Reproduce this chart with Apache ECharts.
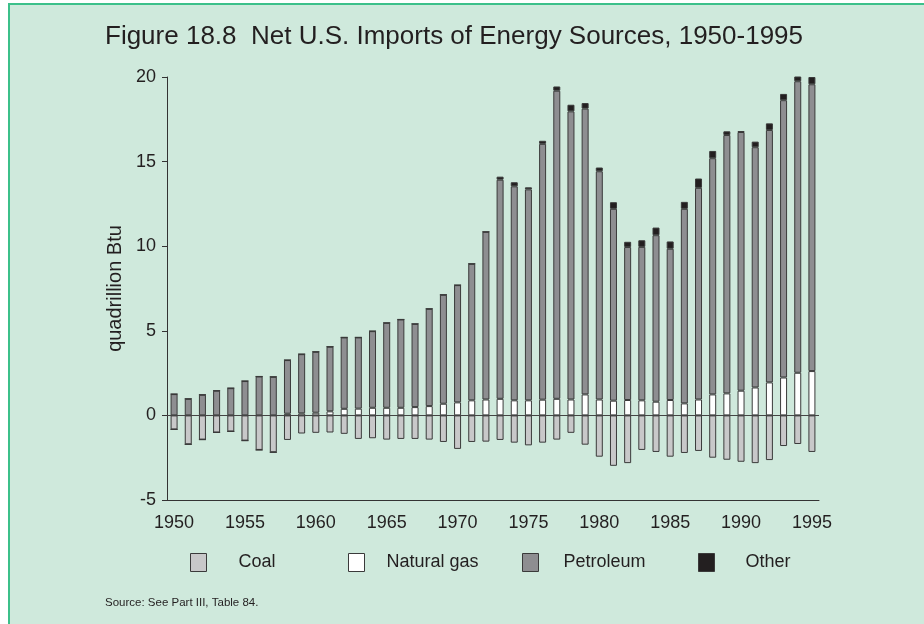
<!DOCTYPE html>
<html>
<head>
<meta charset="utf-8">
<script src="https://cdn.jsdelivr.net/npm/echarts@6/dist/echarts.min.js"></script>
<style>
html,body{margin:0;padding:0;background:#fff;}
#chart{width:924px;height:624px;}
</style>
</head>
<body>
<div id="chart"></div>
<script>
var years = [];
for (var y = 1950; y <= 1995; y++) years.push(String(y));

var coal = [-0.83,-1.71,-1.43,-1.01,-0.95,-1.49,-2.04,-2.18,-1.45,-1.07,
            -1.03,-1.01,-1.09,-1.39,-1.35,-1.43,-1.39,-1.39,-1.43,-1.57,
            -1.98,-1.57,-1.55,-1.45,-1.61,-1.77,-1.61,-1.43,-1.03,-1.73,
            -2.44,-2.98,-2.82,-2.04,-2.16,-2.44,-2.22,-2.10,-2.50,-2.62,
            -2.74,-2.82,-2.64,-1.81,-1.69,-2.16];
var naturalGas = [0,0,0,0,0,0,0,0,0.10,0.12,
            0.16,0.24,0.39,0.40,0.45,0.45,0.45,0.49,0.55,0.69,
            0.77,0.89,0.94,0.98,0.89,0.89,0.93,0.98,0.94,1.24,
            0.94,0.87,0.91,0.89,0.81,0.91,0.71,0.94,1.24,1.30,
            1.46,1.65,1.95,2.24,2.52,2.62];
var petroleum = [1.26,0.98,1.22,1.46,1.61,2.03,2.30,2.28,3.17,3.50,
            3.60,3.82,4.22,4.21,4.53,5.02,5.22,4.92,5.75,6.44,
            6.93,8.07,9.91,12.95,12.65,12.47,15.12,18.21,17.03,16.89,
            13.49,11.34,9.04,9.07,9.84,8.94,11.50,12.51,13.96,15.27,
            15.29,14.20,14.92,16.39,17.23,16.95];
var other = [0,0,0,0,0,0,0,0,0,0,
            0,0,0,0,0,0,0,0,0,0,
            0,0,0,0.18,0.24,0.12,0.18,0.25,0.39,0.33,
            0.22,0.39,0.31,0.39,0.45,0.43,0.41,0.55,0.43,0.22,
            0.04,0.33,0.39,0.37,0.55,0.43];
var yTicks = [-5, 0, 5, 10, 15, 20];

var FONT = "'Liberation Sans', Arial, sans-serif";
var TXT = '#231f20';
var BORDER = '#3a3a3a';

function barSeries(name, data, color) {
  return {
    name: name, type: 'bar', stack: 'total', data: data,
    barWidth: 7,
    itemStyle: { color: color, borderColor: BORDER, borderWidth: 1 },
    emphasis: { disabled: true }
  };
}

function legendAt(name, left, gap) {
  return {
    data: [name], left: left, top: 553, orient: 'horizontal', padding: 0,
    itemWidth: 16, itemHeight: 18, icon: 'rect',
    selectedMode: false,
    textStyle: { fontFamily: FONT, fontSize: 18, color: TXT, padding: [0, 0, 0, gap] },
    itemStyle: { borderColor: BORDER, borderWidth: 1 }
  };
}

var chart = echarts.init(document.getElementById('chart'), null, { renderer: 'canvas' });
var series = [
  barSeries('Coal', coal, '#c8c8c9'),
  barSeries('Natural gas', naturalGas, '#ffffff'),
  barSeries('Petroleum', petroleum, '#8e8e91'),
  barSeries('Other', other, '#231f20')
];
series[0].markLine = {
  silent: true, symbol: 'none', label: { show: false },
  lineStyle: { color: '#444', width: 1, type: 'solid' },
  data: [{ yAxis: 0 }]
};

chart.setOption({
  animation: false,
  backgroundColor: 'transparent',
  graphic: [
    { type: 'rect', z: -10, left: 8, top: 3,
      shape: { x: 0, y: 0, width: 940, height: 640 },
      style: { fill: '#cfe9dc', stroke: '#3cc08a', lineWidth: 2 } },
    { type: 'text', left: 105, top: 597,
      style: { text: 'Source: See Part III, Table 84.', font: '11.5px ' + FONT, fill: TXT } }
  ],
  title: {
    text: 'Figure 18.8  Net U.S. Imports of Energy Sources, 1950-1995',
    left: 100, top: 19,
    textStyle: { fontFamily: FONT, fontSize: 26, fontWeight: 'normal', color: TXT }
  },
  legend: [
    legendAt('Coal', 190, 27),
    legendAt('Natural gas', 348, 17),
    legendAt('Petroleum', 522, 20),
    legendAt('Other', 698, 26)
  ],
  grid: { left: 167, top: 77, width: 652, height: 423, containLabel: false },
  xAxis: {
    type: 'category', data: years, position: 'bottom',
    axisLine: { onZero: false, lineStyle: { color: '#333', width: 1 } },
    axisTick: { show: false },
    axisLabel: { interval: 4, margin: 14, fontFamily: FONT, fontSize: 18, color: TXT }
  },
  yAxis: {
    type: 'value', min: yTicks[0], max: yTicks[yTicks.length - 1], interval: 5,
    name: 'quadrillion Btu', nameLocation: 'middle', nameGap: 39,
    nameTextStyle: { fontFamily: FONT, fontSize: 20, color: TXT },
    axisLine: { show: true, lineStyle: { color: '#333', width: 1 } },
    axisTick: { show: true, length: 5, lineStyle: { color: '#333' } },
    splitLine: { show: false },
    axisLabel: { margin: 11, fontFamily: FONT, fontSize: 18, color: TXT }
  },
  series: series
});
</script>
</body>
</html>
